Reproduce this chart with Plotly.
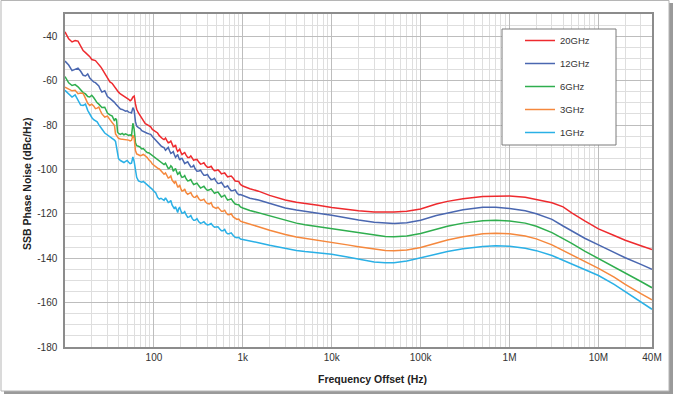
import plotly.graph_objects as go

# ---------------- data ----------------
# offset frequency grid (Hz), split into three bands
freq_low = [10, 11, 12, 13, 14, 15, 16, 17, 18, 19, 20, 21, 22, 23, 24, 25, 26, 28, 30, 32,
            34, 36, 37, 38, 39, 40, 42, 44, 46, 48, 50, 52, 54, 56, 58, 60, 62, 64, 67, 70,
            73, 76, 80, 84, 88, 92, 96, 100, 105, 110, 115, 120, 125]
freq_mid = [130, 135, 140, 145, 150, 155, 160, 165, 170, 175, 180, 185, 190, 195, 200,
            207, 215, 222, 230, 240, 250, 260, 270, 280, 290, 305, 320, 335, 350, 365,
            380, 400, 420, 440, 460, 480, 500, 525, 550, 575, 600, 625, 650, 675, 700,
            740, 780, 820, 860, 900, 940]
freq_high = [1000, 1200, 1500, 2000, 2500, 3000, 4000, 5000, 7000, 10000, 15000, 20000, 30000, 40000,
             50000, 70000, 100000, 150000, 200000, 300000, 500000, 700000, 1000000, 1500000, 2000000,
             3000000, 4000000, 5000000, 7000000, 10000000, 15000000, 20000000, 30000000, 40000000]

# SSB phase noise (dBc/Hz)
pn_20ghz_low = [-38.0, -41.2, -42.6, -42.0, -42.2, -44.6, -46.5, -47.4, -48.3, -49.2, -50.5, -50.9, -51.0, -51.9, -52.6, -53.6, -54.6, -56.8, -59.0, -60.6,
                -61.3, -62.6, -63.5, -64.3, -64.8, -65.2, -66.0, -66.5, -66.8, -67.2, -67.6, -68.4, -69.1, -68.6, -67.4, -67.0, -70.5, -72.9, -74.6, -75.8,
                -77.2, -78.0, -79.4, -79.8, -80.2, -80.8, -82.0, -82.6, -83.0, -83.6, -84.8, -85.8, -86.2]
pn_20ghz_mid = [-86.6, -85.9, -87.0, -88.0, -87.8, -87.2, -88.5, -89.8, -89.6, -89.0, -90.9, -91.9, -91.4, -90.9, -92.1,
                -93.3, -92.8, -92.4, -93.6, -94.6, -94.6, -93.9, -94.9, -95.9, -95.6, -95.5, -96.7, -97.6, -97.4, -97.0,
                -98.1, -99.0, -99.0, -98.6, -99.8, -100.6, -100.5, -100.2, -101.0, -102.0, -101.8, -101.6, -102.5, -103.4, -103.2,
                -103.0, -104.0, -105.2, -105.3, -105.4, -106.8]
pn_20ghz_high = [-107.5, -108.7, -109.8, -111.7, -113.0, -113.8, -114.8, -115.3, -116.2, -117.2, -118.1, -118.6, -119.2, -119.3,
                 -119.2, -118.8, -117.8, -115.6, -114.4, -113.2, -112.2, -112.1, -112.0, -112.5, -113.4,
                 -115.0, -116.9, -119.6, -123.2, -126.8, -129.8, -131.9, -134.4, -136.1]

pn_12ghz_low = [-51.2, -53.0, -55.5, -55.0, -54.4, -55.8, -57.6, -57.9, -57.0, -58.8, -60.0, -60.6, -60.9, -61.6, -62.4, -64.0, -65.2, -64.6, -67.2, -68.0,
                -68.8, -69.8, -70.4, -70.9, -71.4, -72.0, -72.8, -73.0, -73.4, -73.8, -73.6, -74.2, -74.3, -74.6, -72.2, -73.5, -78.5, -80.5, -81.2, -81.6,
                -82.6, -83.0, -83.4, -83.7, -84.0, -84.2, -85.2, -86.0, -87.0, -87.8, -88.8, -89.4, -89.9]
pn_12ghz_mid = [-90.2, -91.4, -90.8, -90.1, -91.6, -92.8, -92.5, -92.0, -93.4, -94.6, -94.0, -93.3, -94.6, -95.8, -95.2,
                -95.0, -96.3, -97.4, -97.0, -96.6, -97.8, -98.9, -98.8, -98.2, -99.6, -100.8, -100.7, -100.4, -101.7, -102.6,
                -102.6, -102.3, -103.7, -104.6, -104.5, -104.0, -105.3, -106.3, -106.2, -105.8, -107.0, -108.0, -107.8, -107.4, -108.5,
                -109.6, -109.5, -109.2, -110.6, -111.4, -111.3]
pn_12ghz_high = [-111.7, -113.0, -113.8, -115.4, -116.6, -117.4, -118.3, -119.0, -119.8, -120.7, -122.0, -122.8, -123.8, -124.3,
                 -124.4, -124.0, -122.9, -120.8, -119.6, -118.2, -117.1, -117.1, -117.6, -118.6, -120.0,
                 -122.5, -125.5, -127.8, -131.0, -134.0, -137.5, -139.8, -142.8, -145.0]

pn_6ghz_low = [-58.2, -61.0, -62.2, -61.8, -62.8, -64.2, -65.4, -66.0, -67.2, -67.4, -66.6, -67.6, -69.0, -70.0, -70.6, -71.4, -72.1, -72.0, -74.6, -75.4,
               -76.0, -78.2, -77.0, -77.6, -83.2, -83.8, -84.2, -83.8, -84.4, -84.0, -84.3, -84.7, -84.4, -84.8, -79.2, -82.0, -88.0, -89.3, -89.6, -90.0,
               -90.8, -90.6, -91.6, -92.4, -92.6, -93.2, -93.8, -94.4, -94.8, -95.6, -96.0, -96.6, -97.0]
pn_6ghz_mid = [-97.8, -97.2, -98.5, -99.6, -99.4, -98.4, -99.0, -100.8, -100.2, -99.6, -101.0, -102.2, -101.8, -101.0, -102.6,
               -103.6, -103.4, -102.8, -104.2, -105.2, -105.0, -104.6, -105.8, -106.8, -106.6, -106.2, -107.4, -108.4, -108.0, -107.6,
               -108.6, -109.5, -109.2, -108.8, -109.8, -110.8, -110.4, -110.2, -111.3, -112.4, -112.0, -111.6, -112.8, -113.8, -113.6,
               -113.3, -114.6, -115.6, -115.8, -115.9, -116.9]
pn_6ghz_high = [-117.4, -118.5, -119.6, -121.0, -122.2, -123.0, -124.2, -124.9, -125.8, -126.6, -127.8, -128.6, -129.6, -130.2,
                -130.3, -130.0, -128.9, -126.9, -125.6, -124.2, -123.1, -122.9, -123.2, -124.2, -125.6,
                -128.5, -131.0, -133.3, -136.8, -140.1, -143.8, -146.5, -150.5, -153.3]

pn_3ghz_low = [-63.0, -63.8, -64.6, -64.4, -65.9, -65.6, -65.8, -68.0, -70.2, -71.2, -70.6, -71.4, -72.6, -72.4, -71.9, -73.6, -75.0, -76.4, -76.0, -77.6,
               -78.8, -80.2, -84.0, -84.8, -85.4, -86.0, -86.3, -86.4, -86.6, -86.8, -87.0, -86.8, -87.2, -86.9, -84.6, -86.0, -91.5, -93.0, -93.4, -93.8,
               -93.6, -93.2, -93.9, -94.6, -95.8, -96.4, -97.6, -98.2, -98.8, -99.4, -99.8, -100.6, -101.6]
pn_3ghz_mid = [-102.2, -101.6, -102.8, -103.9, -103.6, -103.0, -104.8, -105.8, -106.2, -105.2, -107.0, -107.9, -107.8, -107.0, -108.5,
               -109.8, -109.6, -108.8, -110.4, -111.2, -110.8, -110.4, -111.8, -112.5, -112.6, -111.8, -113.2, -114.0, -113.8, -113.4,
               -114.6, -115.4, -115.6, -115.0, -116.8, -117.4, -117.6, -117.0, -118.3, -118.9, -118.9, -118.4, -119.6, -120.3, -120.4,
               -120.0, -121.4, -122.2, -122.5, -122.4, -123.3]
pn_3ghz_high = [-123.7, -124.8, -125.8, -127.4, -128.5, -129.3, -130.4, -131.0, -131.9, -132.6, -134.0, -134.8, -135.9, -136.5,
                -136.6, -136.3, -135.2, -133.2, -131.8, -130.3, -129.0, -128.8, -129.0, -130.0, -131.3,
                -134.0, -136.5, -138.5, -141.7, -144.6, -148.5, -151.8, -156.0, -158.8]

pn_1ghz_low = [-64.4, -66.0, -67.4, -66.4, -68.8, -71.0, -71.2, -70.6, -73.4, -75.2, -76.6, -77.6, -78.0, -78.6, -79.8, -80.6, -81.8, -83.6, -84.4, -85.4,
               -86.2, -86.8, -87.4, -89.6, -91.8, -95.2, -96.0, -96.6, -96.9, -96.4, -96.0, -96.8, -97.4, -97.2, -94.4, -96.5, -100.4, -103.6, -105.2, -105.6,
               -105.8, -105.4, -106.2, -107.0, -107.4, -108.0, -109.0, -109.8, -110.6, -112.6, -113.4, -113.0, -113.6]
pn_1ghz_mid = [-114.0, -112.8, -113.8, -114.9, -114.6, -114.0, -116.0, -117.2, -117.8, -116.8, -118.6, -119.4, -117.6, -117.2, -118.4,
               -119.8, -119.6, -119.0, -120.4, -121.6, -121.4, -120.8, -122.2, -122.9, -122.9, -122.2, -123.6, -124.3, -124.0, -123.6,
               -124.4, -125.0, -124.8, -124.4, -125.4, -126.0, -125.9, -125.8, -126.8, -127.6, -127.6, -127.0, -128.4, -129.0, -129.0,
               -128.6, -129.8, -130.6, -130.8, -130.6, -131.4]
pn_1ghz_high = [-131.6, -132.2, -133.0, -134.2, -135.0, -135.6, -136.5, -137.0, -137.6, -138.2, -139.5, -140.5, -141.7, -142.1,
                -142.0, -141.3, -139.8, -138.0, -137.0, -135.7, -134.7, -134.4, -134.6, -135.5, -136.6,
                -138.8, -141.0, -142.8, -145.3, -147.8, -151.8, -155.2, -159.8, -163.0]

freq_hz = freq_low + freq_mid + freq_high
series_names = ["20GHz", "12GHz", "6GHz", "3GHz", "1GHz"]
series_values = [
    pn_20ghz_low + pn_20ghz_mid + pn_20ghz_high,
    pn_12ghz_low + pn_12ghz_mid + pn_12ghz_high,
    pn_6ghz_low + pn_6ghz_mid + pn_6ghz_high,
    pn_3ghz_low + pn_3ghz_mid + pn_3ghz_high,
    pn_1ghz_low + pn_1ghz_mid + pn_1ghz_high,
]
series_colors = ["#ee2a2e", "#4a67b0", "#2fae4e", "#f5883d", "#2ab0e6"]

x_tick_vals = [100, 1000, 10000, 100000, 1000000, 10000000, 40000000]
x_tick_text = ["100", "1k", "10k", "100k", "1M", "10M", "40M"]
y_tick_vals = [-180, -160, -140, -120, -100, -80, -60, -40]
y_tick_text = ["-180", "-160", "-140", "-120", "-100", "-80", "-60", "-40"]

# minor (2..9 per decade) vertical grid positions
x_minor_vals = []
d = 10
while d < 4e7:
    for m in range(2, 10):
        v = m * d
        if v < 4e7:
            x_minor_vals.append(v)
    d *= 10

FONT = "Arial, Liberation Sans, sans-serif"

fig = go.Figure()
for name, vals, col in zip(series_names, series_values, series_colors):
    fig.add_trace(go.Scatter(
        x=freq_hz, y=vals, mode="lines", name=name, legendgroup=name,
        line=dict(color=col, width=1.5),
    ))

W, H = 681, 394
L, R, T, B = 65, 29, 14, 47
pw, ph = W - L - R, H - T - B


def px_x(p):
    return (p - L) / pw


def px_y(p):
    return (H - B - p) / ph


shapes = [
    # panel shadow + panel
    dict(type="rect", xref="paper", yref="paper", layer="below",
         x0=px_x(4), x1=px_x(673), y0=px_y(394), y1=px_y(3),
         fillcolor="#9a9a9a", line=dict(width=0)),
    dict(type="rect", xref="paper", yref="paper", layer="below",
         x0=px_x(1), x1=px_x(669), y0=px_y(391), y1=px_y(0.5),
         fillcolor="white", line=dict(color="#b5b5b5", width=1)),
    # legend box
    dict(type="rect", xref="paper", yref="paper", layer="above",
         x0=px_x(502), x1=px_x(616), y0=px_y(145), y1=px_y(29),
         fillcolor="white", line=dict(color="#7a7a7a", width=1)),
]

annotations = [
    dict(text="<b>Frequency Offset (Hz)</b>", xref="paper", yref="paper",
         x=px_x(372), y=px_y(379), xanchor="center", yanchor="middle",
         showarrow=False, font=dict(family=FONT, size=10.5, color="#222222")),
    dict(text="<b>SSB Phase Noise (dBc/Hz)</b>", xref="paper", yref="paper",
         x=px_x(27), y=px_y(184), xanchor="center", yanchor="middle",
         textangle=-90, showarrow=False, font=dict(family=FONT, size=10.5, color="#222222")),
]

fig.update_layout(
    width=W, height=H,
    margin=dict(l=L, r=R, t=T, b=B, pad=0),
    paper_bgcolor="white", plot_bgcolor="white",
    font=dict(family=FONT, size=10, color="#333333"),
    showlegend=True,
    legend=dict(
        x=px_x(520), y=px_y(26), xanchor="left", yanchor="top",
        bgcolor="rgba(0,0,0,0)", borderwidth=0,
        font=dict(family=FONT, size=9.5, color="#333333"),
        tracegroupgap=4, traceorder="grouped",
        itemwidth=30,
    ),
    shapes=shapes,
    annotations=annotations,
    xaxis=dict(
        type="log", range=[1, 7.60206], showline=True, mirror=True,
        linecolor="#8c8c8c", linewidth=1.5,
        tickmode="array", tickvals=x_tick_vals, ticktext=x_tick_text,
        ticks="", showgrid=True, gridcolor="#bdbdbd", gridwidth=1,
        tickfont=dict(family=FONT, size=10, color="#333333"),
        minor=dict(tickmode="array", tickvals=x_minor_vals, showgrid=True,
                   gridcolor="#dedede", gridwidth=1, ticks=""),
        zeroline=False,
    ),
    yaxis=dict(
        range=[-180, -30], showline=True, mirror=True,
        linecolor="#8c8c8c", linewidth=1.5,
        tickmode="array", tickvals=y_tick_vals, ticktext=y_tick_text,
        ticks="", ticklabelstandoff=4, showgrid=True, gridcolor="#bdbdbd", gridwidth=1,
        tickfont=dict(family=FONT, size=10, color="#333333"),
        minor=dict(dtick=5, tick0=-180, showgrid=True, gridcolor="#dedede", gridwidth=1, ticks=""),
        zeroline=False,
    ),
)

fig.write_html(
    "out.html",
    config={"displayModeBar": False},
    post_script="document.body.style.margin='0px';document.body.style.overflow='hidden';",
)
